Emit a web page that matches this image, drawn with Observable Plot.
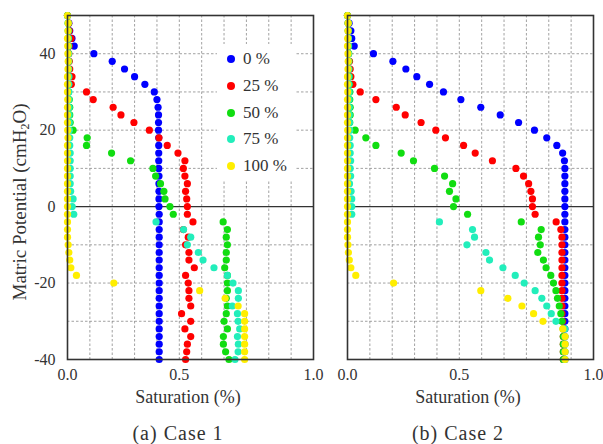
<!DOCTYPE html>
<html>
<head>
<meta charset="utf-8">
<script src="https://cdn.jsdelivr.net/npm/d3@7"></script>
<script src="https://cdn.jsdelivr.net/npm/@observablehq/plot@0.6"></script>
<style>
  html, body { margin: 0; padding: 0; background: #fff; }
  body { width: 603px; height: 444px; position: relative; overflow: hidden; font-family: "Liberation Serif", "Times New Roman", "DejaVu Serif", serif; color: #333; }
  .abs { position: absolute; white-space: nowrap; }
  .panel { position: absolute; top: 0; }
  .title { font-size: 18px; transform: translate(-50%, -50%); }
  .caption { font-size: 20px; letter-spacing: 1px; transform: translate(-50%, -50%); }
  .ylab { font-size: 19px; transform: translate(-50%, -50%) rotate(-90deg); }
  .ylab sub { font-size: 12px; vertical-align: -3px; }
  #legend { position: absolute; left: 217px; top: 44px; width: 79px; height: 136px; background: #fff; }
  .lg { position: absolute; font-size: 17px; }
  .lg span.dot { position: absolute; width: 8px; height: 8px; border-radius: 50%; left: -16px; top: 50%; margin-top: -4px; }
</style>
</head>
<body>
<div id="p1" class="panel" style="left:0px"></div>
<div id="p2" class="panel" style="left:280px"></div>
<div id="legend"></div>
<div class="abs ylab" style="left:21px; top:202px;">Matric Potential (cmH<sub>2</sub>O)</div>
<div class="abs title" style="left:188px; top:397px;">Saturation (%)</div>
<div class="abs title" style="left:468px; top:397px;">Saturation (%)</div>
<div class="abs caption" style="left:178px; top:433px;">(a) Case 1</div>
<div class="abs caption" style="left:458px; top:433px;">(b) Case 2</div>
<script>
// ---- data ----
const potential = [50,48,46,44,42,40,38,36,34,32, 30,28,26,24,22,20,18,16,14,12, 10,8,6,4,2,0,-2,-4,-6,-8, -10,-12,-14,-16,-18,-20,-22,-24,-26,-28, -30,-32,-34,-36,-38,-40];

const seriesNames = ["0 %", "25 %", "50 %", "75 %", "100 %"];
const seriesColors = ["#0000ff", "#ff0000", "#11dd11", "#22eebb", "#ffee00"];

// Case 1
const case1_0 = [0.000,0.006,0.010,0.020,0.030,0.118,0.200,0.255,0.300,0.346, 0.388,0.400,0.405,0.407,0.407,0.407,0.408,0.408,0.408,0.408, 0.408,0.409,0.409,0.409,0.409,0.409,0.410,0.410,0.410,0.410, 0.410,0.410,0.410,0.410,0.410,0.410,0.410,0.410,0.410,0.410, 0.410,0.410,0.410,0.410,0.410,0.410];
const case1_25 = [0.000,0.005,0.008,0.016,0.008,0.006,0.008,0.010,0.020,0.017, 0.085,0.115,0.204,0.239,0.297,0.366,0.409,0.446,0.494,0.525, 0.518,0.525,0.536,0.528,0.533,0.536,0.536,0.561,0.518,0.540, 0.528,0.543,0.543,0.567,0.528,0.540,0.543,0.543,0.551,0.510, 0.551,0.525,0.551,0.536,0.533,0.528];
const case1_50 = [0.000,0.003,0.004,0.004,0.005,0.004,0.005,0.005,0.006,0.005, 0.005,0.008,0.010,0.010,0.012,0.025,0.088,0.085,0.197,0.282, 0.382,0.394,0.416,0.431,0.436,0.458,0.473,0.696,0.715,0.710, 0.715,0.710,0.710,0.703,0.715,0.715,0.715,0.710,0.715,0.710, 0.700,0.715,0.697,0.697,0.707,0.722];
const case1_75 = [0.000,0.003,0.003,0.004,0.004,0.005,0.005,0.005,0.006,0.006, 0.006,0.006,0.007,0.007,0.008,0.008,0.010,0.010,0.012,0.012, 0.012,0.012,0.012,0.014,0.025,0.021,0.028,0.396,0.519,0.551, 0.536,0.585,0.606,0.655,0.715,0.740,0.764,0.764,0.737,0.760, 0.763,0.770,0.760,0.764,0.763,0.749];
const case1_100 = [0.000,0.003,0.002,0.000,0.001,0.002,0.003,0.002,0.000,0.000, 0.000,0.001,0.000,0.000,0.000,0.001,0.002,0.000,0.000,0.000, 0.000,0.000,0.000,0.000,0.000,0.000,0.000,0.000,0.000,0.000, 0.003,0.006,0.010,0.015,0.040,0.207,0.591,0.705,0.763,0.792, 0.792,0.792,0.792,0.792,0.792,0.792];

// Case 2
const case2_0 = [0.000,0.007,0.015,0.019,0.030,0.116,0.203,0.261,0.310,0.367, 0.429,0.507,0.596,0.683,0.765,0.836,0.891,0.936,0.962,0.970, 0.972,0.972,0.972,0.972,0.972,0.972,0.972,0.972,0.972,0.972, 0.972,0.972,0.972,0.972,0.972,0.972,0.972,0.972,0.972,0.972, 0.972,0.972,0.972,0.972,0.972,0.972];
const case2_25 = [0.000,0.003,0.004,0.004,0.005,0.005,0.009,0.012,0.015,0.024, 0.057,0.127,0.218,0.258,0.329,0.395,0.438,0.519,0.571,0.648, 0.753,0.787,0.810,0.820,0.827,0.827,0.839,0.933,0.954,0.959, 0.959,0.959,0.959,0.959,0.959,0.959,0.959,0.959,0.959,0.959, 0.962,0.965,0.965,0.965,0.965,0.965];
const case2_50 = [0.000,0.003,0.004,0.004,0.005,0.005,0.006,0.006,0.008,0.008, 0.010,0.010,0.012,0.012,0.010,0.034,0.082,0.127,0.240,0.295, 0.389,0.434,0.470,0.456,0.485,0.474,0.537,0.777,0.866,0.854, 0.862,0.851,0.876,0.888,0.909,0.921,0.932,0.939,0.947,0.954, 0.959,0.965,0.965,0.965,0.965,0.965];
const case2_75 = [0.000,0.003,0.003,0.004,0.004,0.005,0.005,0.006,0.006,0.006, 0.007,0.007,0.008,0.008,0.009,0.010,0.010,0.012,0.012,0.014, 0.012,0.014,0.009,0.016,0.019,0.019,0.019,0.411,0.559,0.568, 0.534,0.619,0.635,0.695,0.750,0.790,0.839,0.869,0.891,0.911, 0.932,0.972,0.972,0.972,0.972,0.972];
const case2_100 = [0.000,0.003,0.002,0.001,0.000,0.002,0.003,0.002,0.000,0.000, 0.001,0.000,0.000,0.000,0.000,0.001,0.000,0.000,0.000,0.000, 0.000,0.000,0.000,0.000,0.000,0.000,0.000,0.000,0.000,0.000, 0.002,0.004,0.008,0.015,0.037,0.206,0.596,0.717,0.780,0.832, 0.874,0.963,0.973,0.973,0.973,0.973];

// axis ticks and labels
const xTickValues = [0, 0.5, 1.1];
const xTickLabels = ["0.0", "0.5", "1.0"];
const xGridValues = [0.1,0.2,0.3,0.4,0.5,0.6,0.7,0.8,0.9,1.0];
const yTickValues = [40, 20, 0, -20, -40];
const yTickLabels = ["40", "20", "0", "-20", "-40"];
const yGridValues = [40, 30, 20, 10, -10, -20, -30];

function toRows(seriesList) {
  return seriesList.flatMap((vals, k) => vals.map((s, i) => ({series: seriesNames[k], s, p: potential[i]})));
}
const rows1 = toRows([case1_0, case1_25, case1_50, case1_75, case1_100]);
const rows2 = toRows([case2_0, case2_25, case2_50, case2_75, case2_100]);

function panel(rows, showY) {
  return Plot.plot({
    width: 320, height: 390,
    marginTop: 15, marginLeft: 67, marginRight: 7, marginBottom: 31,
    style: {fontFamily: "'Liberation Serif', 'Times New Roman', 'DejaVu Serif', serif", fontSize: "16px", color: "#333", background: "transparent", overflow: "visible"},
    x: {domain: [0, 1.1], ticks: xTickValues, tickFormat: d => xTickLabels[xTickValues.indexOf(d)], tickSize: 0, tickPadding: 9, label: null},
    y: {domain: [-40, 50], ticks: yTickValues, tickFormat: d => yTickLabels[yTickValues.indexOf(d)], tickSize: 0, tickPadding: 12, label: null, axis: showY ? "left" : null},
    color: {domain: seriesNames, range: seriesColors},
    marks: [
      Plot.gridX(xGridValues, {stroke: "#8a8a8a", strokeOpacity: 1, strokeWidth: 0.8, strokeDasharray: "2.5,2"}),
      Plot.gridY(yGridValues, {stroke: "#8a8a8a", strokeOpacity: 1, strokeWidth: 0.8, strokeDasharray: "2.5,2"}),
      Plot.ruleY([0], {stroke: "#333", strokeWidth: 1.4}),
      Plot.dot(rows, {x: "s", y: "p", fill: "series", r: 3.6, stroke: "none"}),
      Plot.frame({stroke: "#333", strokeWidth: 1.6})
    ]
  });
}

document.getElementById("p1").appendChild(panel(rows1, true));
document.getElementById("p2").appendChild(panel(rows2, false));

// legend
const legend = document.getElementById("legend");
seriesNames.forEach((name, i) => {
  const item = document.createElement("div");
  item.className = "lg";
  item.style.left = "26px";
  item.style.top = (15.3 + i * 26.7 - 11) + "px";
  item.style.height = "22px";
  item.style.lineHeight = "22px";
  const dot = document.createElement("span");
  dot.className = "dot";
  dot.style.background = seriesColors[i];
  item.appendChild(dot);
  item.appendChild(document.createTextNode(name));
  legend.appendChild(item);
});
</script>
</body>
</html>
